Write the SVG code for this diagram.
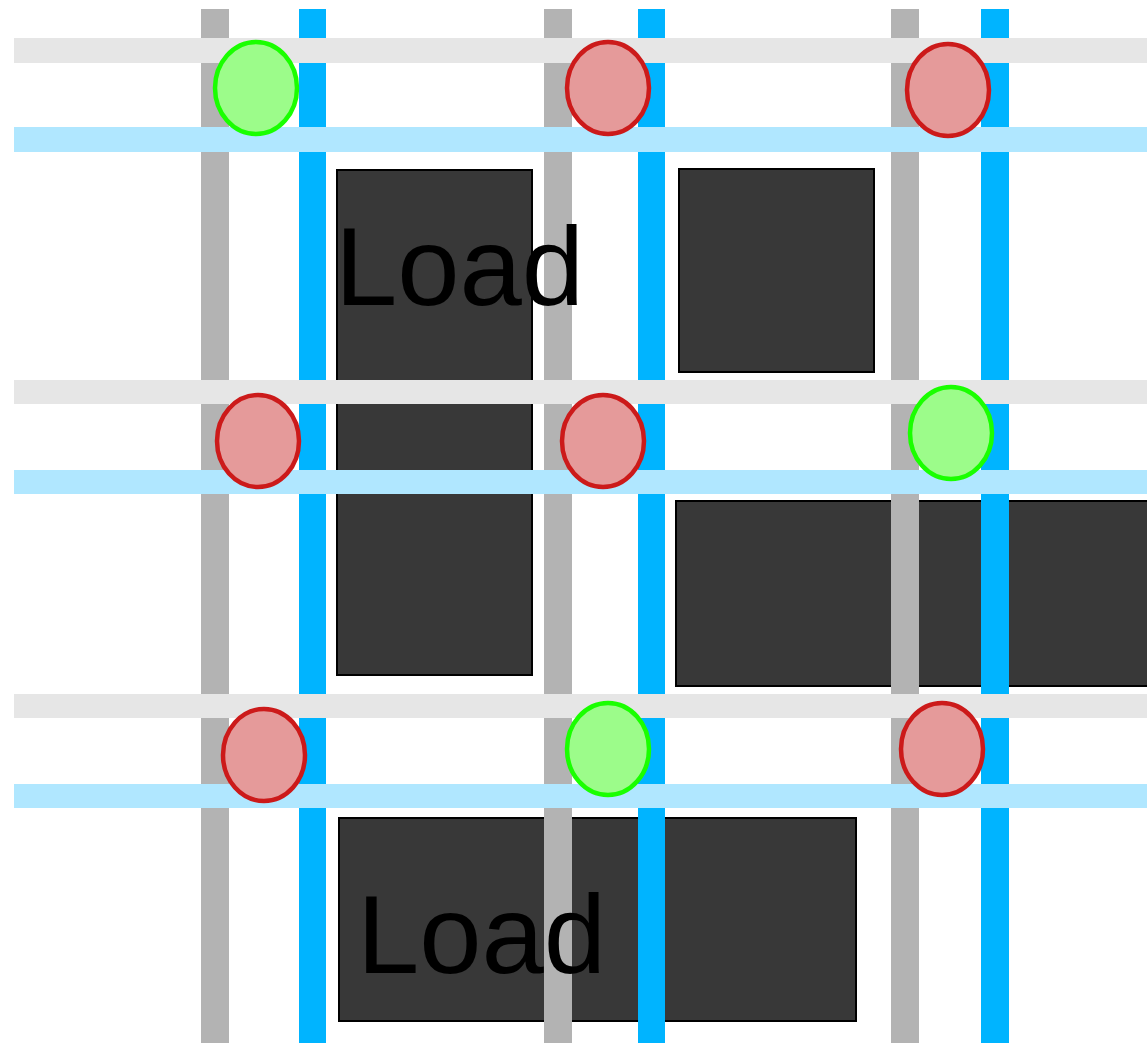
<svg xmlns="http://www.w3.org/2000/svg" width="1147" height="1043" viewBox="0 0 1147 1043">
<style>
.box{fill:#383838;stroke:#000;stroke-width:2}
.vg{fill:#b3b3b3}
.vb{fill:#00b4ff}
.hg{fill:#e6e6e6}
.hb{fill:#b0e7ff}
.lbl{font-family:"Liberation Sans",Arial,sans-serif;font-size:112px;fill:#000}
.ok{fill:#9cfc8a;stroke:#1aff00;stroke-width:4.5}
.bad{fill:#e59a9a;stroke:#cc1a1a;stroke-width:4.5}
</style>
<rect width="1147" height="1043" fill="#fff"/>
<g id="loads">
<rect id="load1" class="box" x="337" y="170" width="195" height="505"/>
<rect id="load2" class="box" x="679" y="169" width="195" height="203"/>
<rect id="load3" class="box" x="676" y="501" width="480" height="185"/>
<rect id="load4" class="box" x="339" y="818" width="517" height="203"/>
</g>
<g id="connectors">
<rect class="vg" x="201" y="9" width="28" height="1034"/>
<rect class="vg" x="544" y="9" width="28" height="1034"/>
<rect class="vg" x="891" y="9" width="28" height="1034"/>
<rect class="vb" x="299" y="9" width="27" height="1034"/>
<rect class="vb" x="638" y="9" width="27" height="1034"/>
<rect class="vb" x="981" y="9" width="28" height="1034"/>
<rect class="hg" x="14" y="38" width="1133" height="25"/>
<rect class="hb" x="14" y="127" width="1133" height="25"/>
<rect class="hg" x="14" y="380" width="1133" height="24"/>
<rect class="hb" x="14" y="470" width="1133" height="24"/>
<rect class="hg" x="14" y="694" width="1133" height="24"/>
<rect class="hb" x="14" y="784" width="1133" height="24"/>
</g>
<g id="labels">
<text class="lbl" x="335" y="305">Load</text>
<text class="lbl" x="357" y="973">Load</text>
</g>
<g id="n1"><ellipse class="ok" cx="256" cy="88" rx="41" ry="46"/></g>
<g id="n2"><ellipse class="bad" cx="608" cy="88" rx="41" ry="46"/></g>
<g id="n3"><ellipse class="bad" cx="948" cy="90" rx="41" ry="46"/></g>
<g id="n4"><ellipse class="bad" cx="258" cy="441" rx="41" ry="46"/></g>
<g id="n5"><ellipse class="bad" cx="603" cy="441" rx="41" ry="46"/></g>
<g id="n6"><ellipse class="ok" cx="951" cy="433" rx="41" ry="46"/></g>
<g id="n7"><ellipse class="bad" cx="264" cy="755" rx="41" ry="46"/></g>
<g id="n8"><ellipse class="ok" cx="608" cy="749" rx="41" ry="46"/></g>
<g id="n9"><ellipse class="bad" cx="942" cy="749" rx="41" ry="46"/></g>
</svg>
